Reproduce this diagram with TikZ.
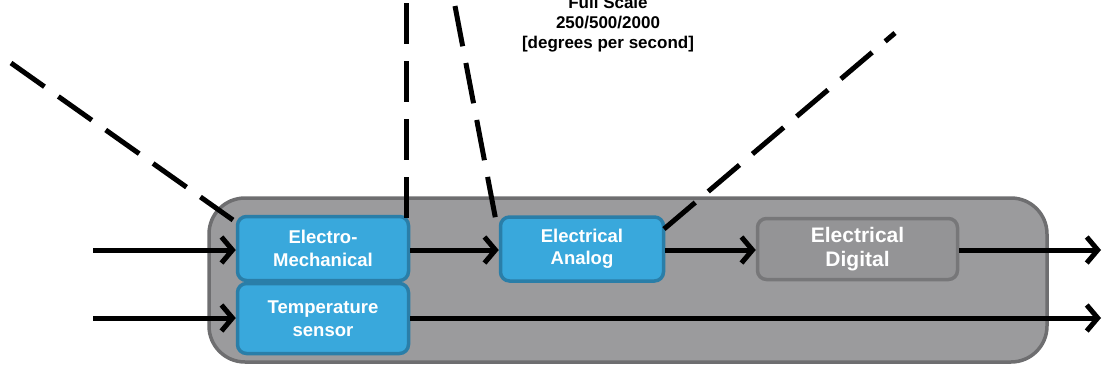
\documentclass[tikz,border=0pt]{standalone}
\usepackage{fontspec}
\setmainfont{Liberation Sans}
\usetikzlibrary{arrows.meta}
\definecolor{outerfill}{HTML}{9B9B9D}
\definecolor{outerdraw}{HTML}{6E6E70}
\definecolor{bluefill}{HTML}{39A8DC}
\definecolor{bluedraw}{HTML}{2A7EA8}
\definecolor{digfill}{HTML}{949496}
\definecolor{digdraw}{HTML}{777779}
\tikzset{
  bluebox/.style={draw=bluedraw, fill=bluefill, line width=3.5pt, rounded corners=9pt,
    text=white, font=\bfseries\fontsize{18.5}{22.5}\selectfont, align=center, inner sep=0pt},
  digbox/.style={draw=digdraw, fill=digfill, line width=3.5pt, rounded corners=9pt,
    text=white, font=\bfseries\fontsize{21}{24}\selectfont, align=center, inner sep=0pt},
  arr/.style={line width=5pt, -{Straight Barb[length=11pt,width=26pt,line width=5pt]}},
  dashline/.style={line width=5pt, dash pattern=on 41pt off 17pt},
}
\begin{document}
\begin{tikzpicture}[x=1pt,y=-1pt]
\useasboundingbox (0,0) rectangle (1104,368);
% outer container
\node[draw=outerdraw, fill=outerfill, line width=3.5pt, rounded corners=36pt,
  minimum width=838pt, minimum height=164pt, inner sep=0pt] (outer) at (628,280) {};
% boxes
\node[bluebox, minimum width=171pt, minimum height=64pt] (em) at (323,248.5) {Electro-\\Mechanical};
\node[bluebox, minimum width=171pt, minimum height=70pt] (ts) at (323,318.5) {Temperature\\sensor};
\node[bluebox, minimum width=163pt, minimum height=64pt] (ea) at (582,249) {Electrical\\Analog};
\node[digbox, minimum width=200pt, minimum height=61pt] (ed) at (857.5,249) {Electrical\\Digital};
% end coordinates
\coordinate (in1) at (93,250);
\coordinate (in2) at (93,318);
\coordinate (out1) at (1101,250);
\coordinate (out2) at (1101,318);
% arrows
\draw[arr] (in1) -- (em.west |- in1);
\draw[arr] (in2) -- (ts.west |- in2);
\draw[arr] (em.east |- in1) -- (ea.west |- in1);
\draw[arr] (ea.east |- in1) -- (ed.west |- in1);
\draw[arr] (ed.east |- in1) -- (out1);
\draw[arr] (ts.east |- in2) -- (out2);
% dashed lines
\coordinate (d1s) at (11,63);
\coordinate (d1e) at (233,220);
\coordinate (d2s) at (406,3);
\coordinate (d2e) at (406,220);
\coordinate (d3s) at (455,6);
\coordinate (d3e) at (496,221);
\coordinate (d4s) at (895,33);
\coordinate (d4e) at (664,229);
\draw[dashline] (d1s) -- (d1e);
\draw[dashline] (d2s) -- (d2e);
\draw[dashline] (d3s) -- (d3e);
\draw[dashline] (d4e) -- (d4s);
% label
\node[font=\bfseries\fontsize{17}{20}\selectfont, align=center, anchor=south, inner sep=0pt] (fs) at (608,52) {Full Scale\\250/500/2000\\{[degrees per second]}};
\end{tikzpicture}
\end{document}
